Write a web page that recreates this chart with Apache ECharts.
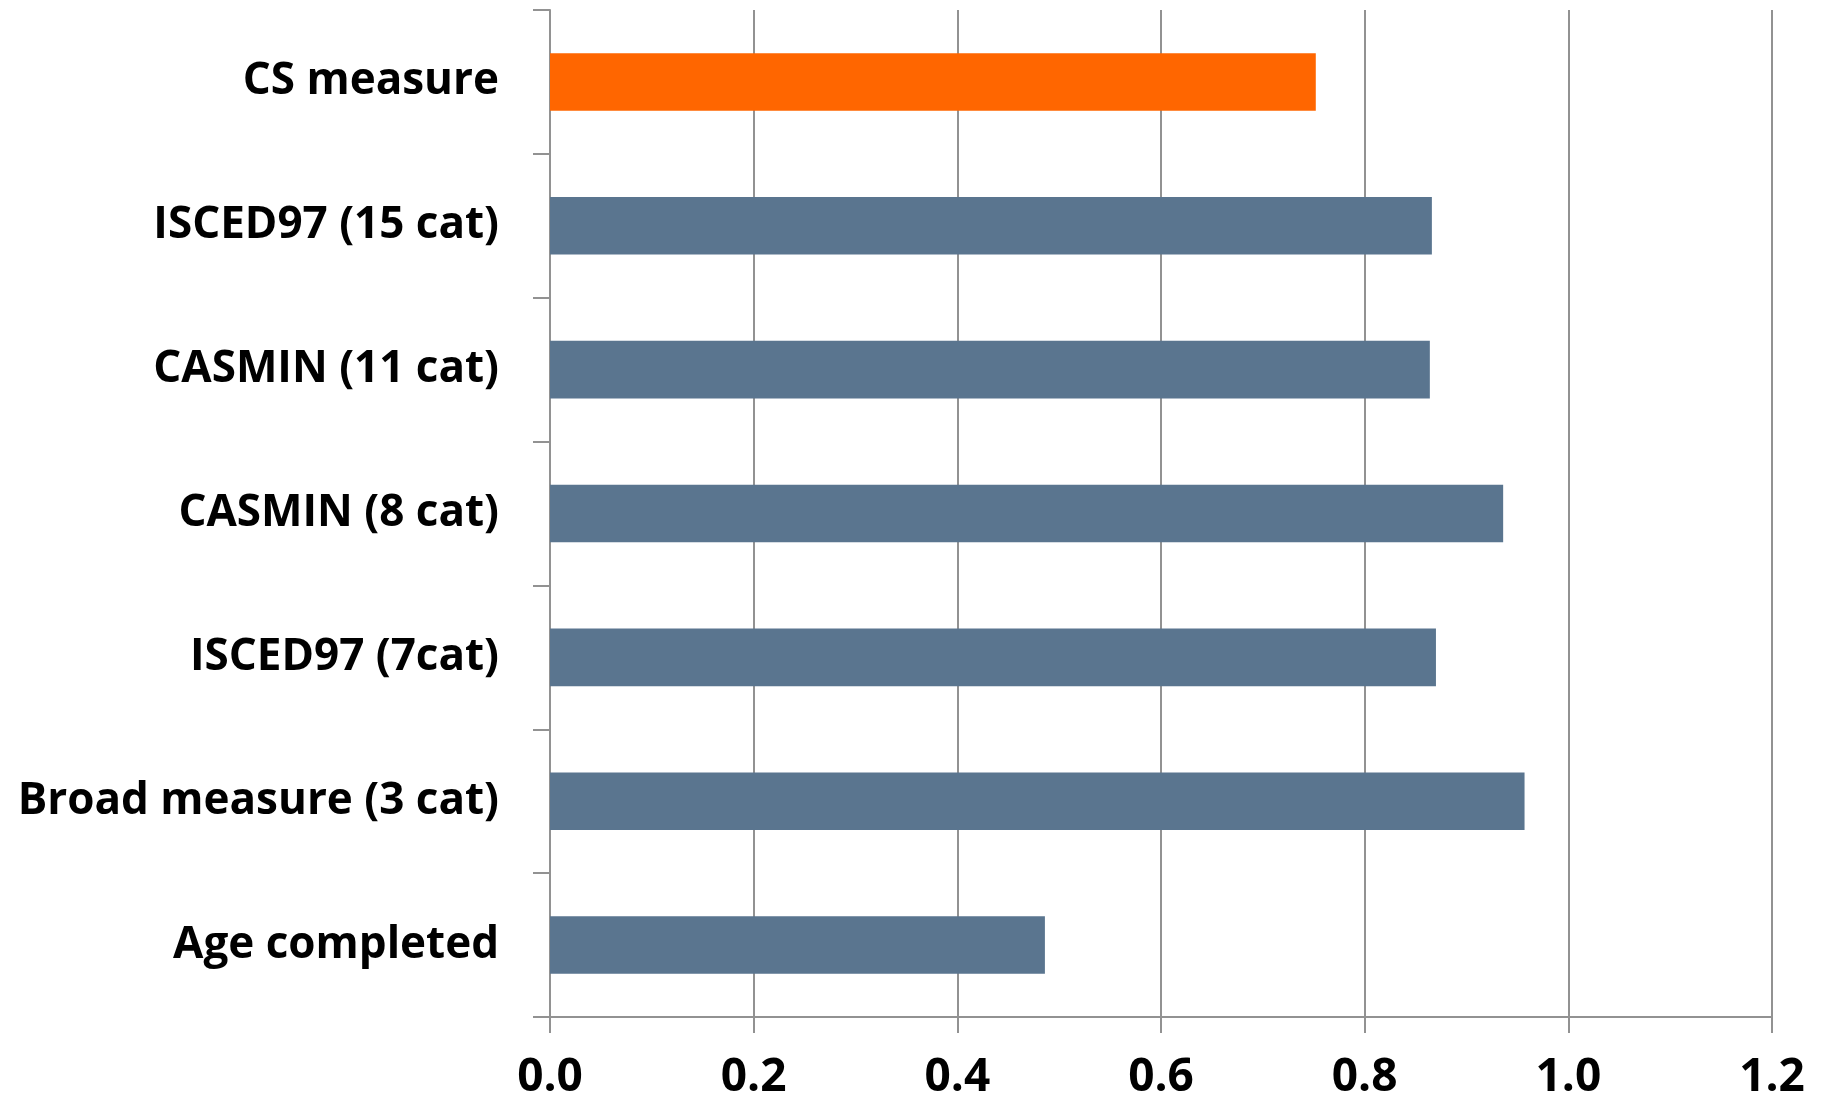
<!DOCTYPE html>
<html>
<head>
<meta charset="utf-8">
<script src="https://cdn.jsdelivr.net/npm/echarts@6/dist/echarts.min.js"></script>
<style>
  html, body { margin: 0; padding: 0; background: #ffffff; }
  #chart { width: 1826px; height: 1106px; }
</style>
</head>
<body>
<div id="chart"></div>
<script>
// Education measures, listed top to bottom
const categories = [
  'CS measure',
  'ISCED97 (15 cat)',
  'CASMIN (11 cat)',
  'CASMIN (8 cat)',
  'ISCED97 (7cat)',
  'Broad measure (3 cat)',
  'Age completed'
];
const values = [0.752, 0.866, 0.864, 0.936, 0.870, 0.957, 0.486];
// First bar is highlighted
const highlightIndex = 0;
const axisMin = 0;
const axisMax = 1.2;
const axisStep = 0.2;

const gridColor = '#929292';
const fontFamily = '"Open Sans", "Noto Sans", sans-serif';

const chart = echarts.init(document.getElementById('chart'));
chart.setOption({
  animation: false,
  backgroundColor: '#ffffff',
  grid: { left: 550, right: 54, top: 10, bottom: 89, containLabel: false },
  xAxis: {
    type: 'value',
    min: axisMin,
    max: axisMax,
    interval: axisStep,
    axisLine: { show: true, lineStyle: { color: gridColor, width: 2 } },
    axisTick: { show: true, length: 16, lineStyle: { color: gridColor, width: 2 } },
    splitLine: { show: true, lineStyle: { color: gridColor, width: 2 } },
    axisLabel: {
      margin: 38,
      color: '#000000',
      fontFamily: fontFamily,
      fontWeight: 'bold',
      fontSize: 46,
      formatter: v => v.toFixed(1)
    }
  },
  yAxis: {
    type: 'category',
    inverse: true,
    data: categories,
    axisLine: { show: true, lineStyle: { color: gridColor, width: 2 } },
    axisTick: { show: true, length: 17, alignWithLabel: false, lineStyle: { color: gridColor, width: 2 } },
    splitLine: { show: false },
    axisLabel: {
      margin: 51,
      color: '#000000',
      fontFamily: fontFamily,
      fontWeight: 'bold',
      fontSize: 44,
      padding: [9, 0, 0, 0]
    }
  },
  series: [{
    type: 'bar',
    barCategoryGap: '60%',
    data: values.map((v, i) => ({
      value: v,
      itemStyle: { color: i === highlightIndex ? '#ff6600' : '#5a758f' }
    }))
  }]
});
</script>
</body>
</html>
